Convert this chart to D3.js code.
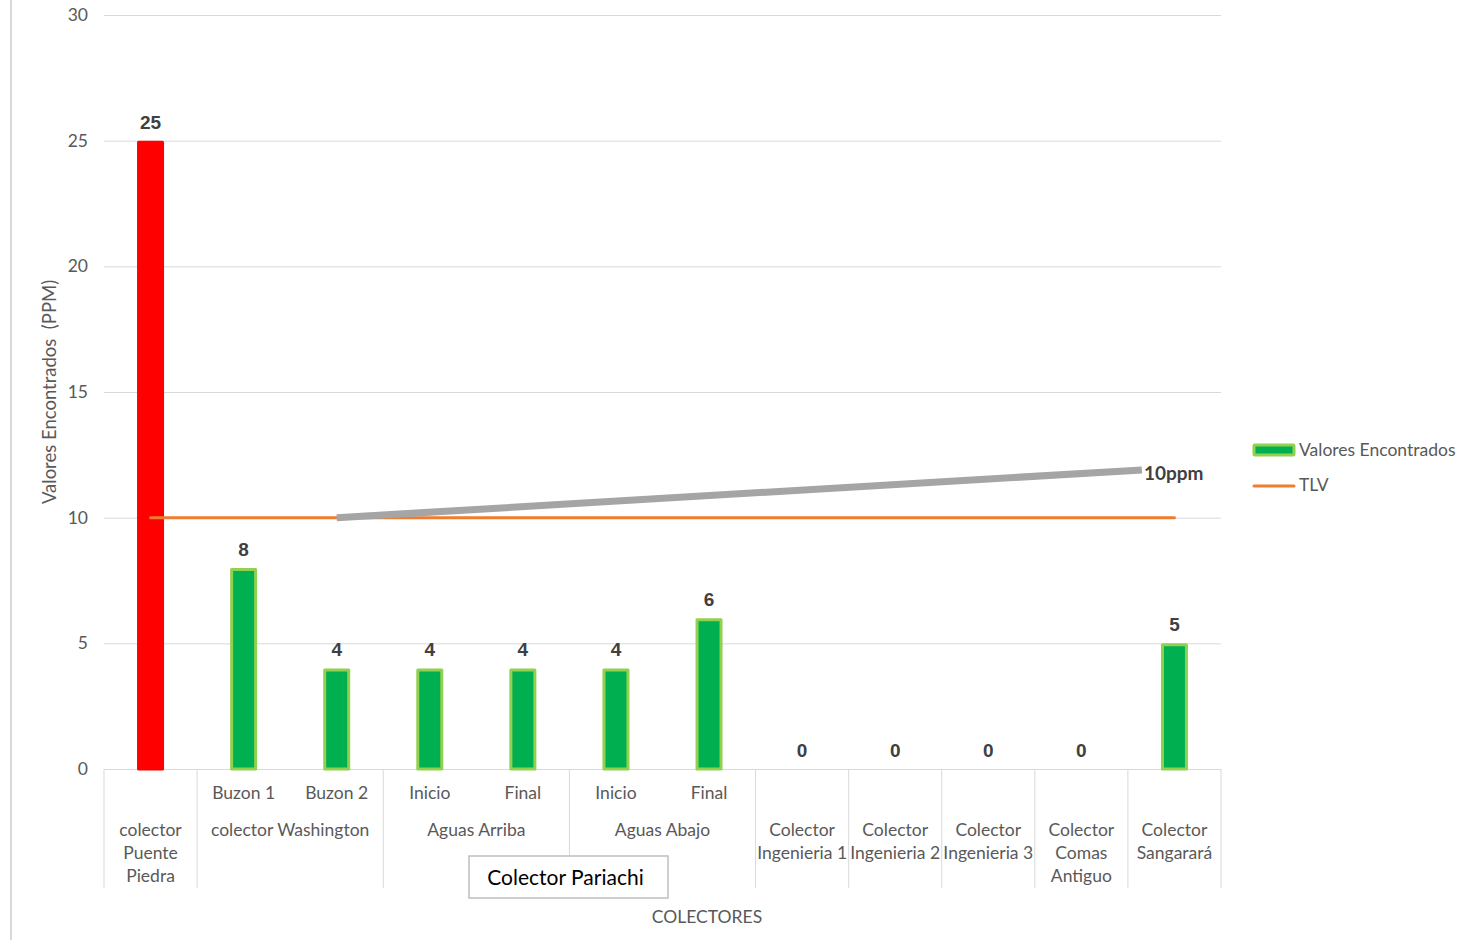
<!DOCTYPE html>
<html><head><meta charset="utf-8">
<script src="https://cdn.jsdelivr.net/npm/d3@7"></script>
<style>
body{margin:0;background:#fff;}
svg{display:block;font-family:Lato,"Liberation Sans",sans-serif;}
</style></head>
<body><svg id="c" width="1457" height="940"></svg>
<script>
// ---- data ----
const leafLabels = ["", "Buzon 1", "Buzon 2", "Inicio", "Final", "Inicio", "Final", "", "", "", "", ""];
const groupLabels = [
  {label:["colector","Puente","Piedra"], start:0, end:1},
  {label:["colector Washington"], start:1, end:3},
  {label:["Aguas Arriba"], start:3, end:5},
  {label:["Aguas Abajo"], start:5, end:7},
  {label:["Colector","Ingenieria 1"], start:7, end:8},
  {label:["Colector","Ingenieria 2"], start:8, end:9},
  {label:["Colector","Ingenieria 3"], start:9, end:10},
  {label:["Colector","Comas","Antiguo"], start:10, end:11},
  {label:["Colector","Sangarará"], start:11, end:12}
];
const topGroup = {label:"Colector Pariachi", start:3, end:7};
const values = [25, 8, 4, 4, 4, 4, 6, 0, 0, 0, 0, 5];
const tlv = [10, 10, 10, 10, 10, 10, 10, 10, 10, 10, 10, 10];
const yTicks = [0, 5, 10, 15, 20, 25, 30];
const annotation = {x0:2, y0:10, x1:10.65, y1:11.9, label:"10ppm"};
const seriesNames = ["Valores Encontrados", "TLV"];

// ---- layout ----
const svg = d3.select("#c");
const L = 104, R = 1221, T = 15, B = 769;
const FS = "17.5px";
const idx = d3.range(values.length);
const x = d3.scaleBand().domain(idx).range([L, R]).paddingInner(0).paddingOuter(0);
const xc = i => x(i) + x.bandwidth()/2;
const xi = d3.scaleLinear().domain([0, values.length-1]).range([xc(0), xc(values.length-1)]);
const y = d3.scaleLinear().domain([0, 30]).range([B, T]);

// left frame line
svg.append("line").attr("x1",11).attr("x2",11).attr("y1",0).attr("y2",940)
  .attr("stroke","#d9d9d9").attr("stroke-width",2);

// gridlines + y axis
const yAxis = d3.axisLeft(y).tickValues(yTicks).tickSize(-(R-L)).tickPadding(16);
const gy = svg.append("g").attr("transform",`translate(${L},0)`).call(yAxis);
gy.select(".domain").remove();
gy.selectAll(".tick line").attr("stroke","#d9d9d9").attr("stroke-width",1);
gy.selectAll(".tick text").attr("fill","#595959").style("font-size","17.5px").style("font-family","Lato");

// y axis title
svg.append("text").attr("transform","translate(56,392) rotate(-90)")
  .attr("text-anchor","middle").attr("fill","#595959").style("font-size","18.5px")
  .style("white-space","pre").attr("xml:space","preserve")
  .text("Valores Encontrados  (PPM)");

// category axis frame lines
const bounds = new Set([0]);
groupLabels.forEach(g=>{bounds.add(g.start);bounds.add(g.end);});
svg.append("g").selectAll("line").data([...bounds]).join("line")
  .attr("x1",d=> d<values.length ? x(d) : R).attr("x2",d=> d<values.length ? x(d) : R)
  .attr("y1",B).attr("y2",888).attr("stroke","#d9d9d9").attr("stroke-width",1);

// leaf labels
svg.append("g").selectAll("text").data(idx).join("text")
  .attr("x",i=>xc(i)).attr("y",799).attr("text-anchor","middle")
  .attr("fill","#595959").style("font-size",FS).text(i=>leafLabels[i]);

// group labels
const gl = svg.append("g").selectAll("text").data(groupLabels).join("text")
  .attr("text-anchor","middle").attr("fill","#595959").style("font-size",FS);
gl.each(function(g){
  const cx = (x(g.start) + (g.end<values.length? x(g.end) : R))/2;
  d3.select(this).selectAll("tspan").data(g.label).join("tspan")
    .attr("x",cx).attr("y",(d,k)=>836 + k*23).text(d=>d);
});

// bars
svg.append("g").selectAll("rect").data(idx.filter(i=>values[i]>0)).join("rect")
  .attr("x",i=>xc(i)-12).attr("width",24)
  .attr("y",i=>y(values[i])+1.5).attr("height",i=>y(0)-y(values[i])-1.5)
  .attr("fill",i=> values[i]>tlv[i] ? "#ff0000" : "#00b050")
  .attr("stroke",i=> values[i]>tlv[i] ? "#ff0000" : "#92d050")
  .attr("stroke-width",3).attr("stroke-linejoin","round");

// TLV line
svg.append("path").datum(idx)
  .attr("d",d3.line().x(i=>xc(i)).y(i=>y(tlv[i])))
  .attr("fill","none").attr("stroke","#ed7d31").attr("stroke-width",3).attr("stroke-linecap","round");

// annotation line
svg.append("line")
  .attr("x1",xi(annotation.x0)).attr("y1",y(annotation.y0))
  .attr("x2",xi(annotation.x1)).attr("y2",y(annotation.y1))
  .attr("stroke","#a5a5a5").attr("stroke-width",7);
svg.append("text").attr("x",xi(annotation.x1)+2).attr("y",y(annotation.y1)+10)
  .attr("fill","#404040").style("font-size","19px").style("font-weight","bold")
  .text(annotation.label);

// data labels
svg.append("g").selectAll("text").data(idx).join("text")
  .attr("x",i=>xc(i)).attr("y",i=>y(values[i])-12).attr("text-anchor","middle")
  .attr("fill","#404040").style("font-family","'Liberation Sans',Arial,sans-serif")
  .style("font-size","19px").style("font-weight","bold").text(i=>values[i]);

// top-level group box
const bx0 = 469, bx1 = 668;
svg.append("rect").attr("x",bx0).attr("y",856).attr("width",bx1-bx0).attr("height",42)
  .attr("fill","#fff").attr("stroke","#bfbfbf").attr("stroke-width",1.5);
svg.append("text").attr("x",(bx0+bx1)/2 - 3).attr("y",885).attr("text-anchor","middle")
  .attr("fill","#000").style("font-size","21px").text(topGroup.label);

// x axis title
svg.append("text").attr("x",707).attr("y",923).attr("text-anchor","middle")
  .attr("fill","#595959").style("font-size",FS).text("COLECTORES");

// legend
const lg = svg.append("g");
lg.append("rect").attr("x",1254).attr("y",445).attr("width",40).attr("height",10)
  .attr("fill","#00b050").attr("stroke","#92d050").attr("stroke-width",3).attr("rx",1);
lg.append("text").attr("x",1299).attr("y",456).attr("fill","#595959").style("font-size",FS).text(seriesNames[0]);
lg.append("line").attr("x1",1254).attr("x2",1294).attr("y1",486).attr("y2",486)
  .attr("stroke","#ed7d31").attr("stroke-width",3).attr("stroke-linecap","round");
lg.append("text").attr("x",1299).attr("y",491).attr("fill","#595959").style("font-size",FS).text(seriesNames[1]);
</script></body></html>
